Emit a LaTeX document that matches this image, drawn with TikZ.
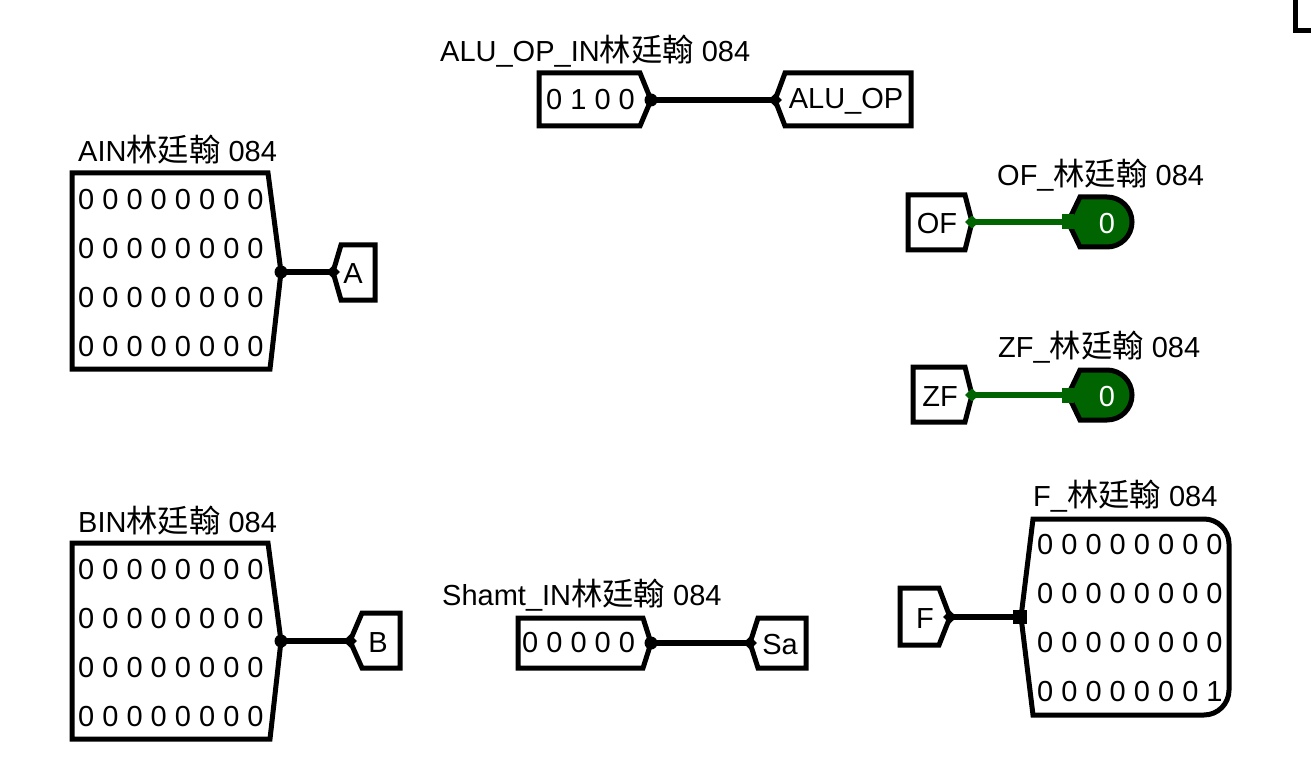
\documentclass[tikz,border=0pt]{standalone}
\usepackage{fontspec}
\setmainfont{Liberation Sans}
\newfontfamily\cjk{Noto Sans CJK TC}[Scale=1.08]
\usepackage{tikz}
\definecolor{lowgreen}{RGB}{0,100,0}
\tikzset{
  outline/.style={line width=5pt, line join=miter},
  wire/.style={line width=6pt},
  lab/.style={anchor=base west, inner sep=0pt, font=\fontsize{29}{35}\selectfont},
  val/.style={anchor=west, inner sep=0pt, font=\fontsize{29}{35}\selectfont},
  tag/.style={inner sep=0pt, font=\fontsize{29}{35}\selectfont},
}
\newcommand{\nm}{{\cjk 林廷翰} 084}
\begin{document}
\begin{tikzpicture}[x=1pt, y=-1pt]
\useasboundingbox[fill=white] (0,0) rectangle (1311,759);
%
% ALU_OP_IN
\node[lab](aluoplab) at (440,62) {ALU\_OP\_IN\nm};
\draw[outline] (539,73) -- (640,73) -- (651,100) -- (640,126) -- (539,126) -- cycle;
\node[val](aluopval) at (546,100) {0 1 0 0};
\coordinate(aluopout) at (651,100);
\draw[outline] (775,100) -- (785,73) -- (911,73) -- (911,126) -- (785,126) -- cycle;
\node[tag](aluoptag) at (846,101) {ALU\_OP};
\coordinate(aluopin) at (775,100);
\draw[wire] (aluopout) -- (aluopin);
\fill (aluopout) circle (6.5);
\fill (aluopin) +(-7,0) -- +(0,-6.5) -- +(7,0) -- +(0,6.5) -- cycle;
%
% AIN
\node[lab](ainlab) at (78,162) {AIN\nm};
\draw[outline] (72,173) -- (268,173) -- (281,272) -- (270,369) -- (72,369) -- cycle;
\foreach \y [count=\i] in {200,249,298,347}
  \node[val](ain\i) at (78,\y) {0 0 0 0 0 0 0 0};
\coordinate(ainout) at (281,272);
\draw[outline] (333,272) -- (341,245) -- (375,245) -- (375,300) -- (341,300) -- cycle;
\node[tag](atag) at (353,274) {A};
\coordinate(ain) at (333,272);
\draw[wire] (ainout) -- (ain);
\fill (ainout) circle (6.5);
\fill (ain) +(-7,0) -- +(0,-6.5) -- +(7,0) -- +(0,6.5) -- cycle;
%
% BIN
\node[lab](binlab) at (78,532) {BIN\nm};
\draw[outline] (72,543) -- (268,543) -- (281,641) -- (270,739) -- (72,739) -- cycle;
\foreach \y [count=\i] in {570,619,668,717}
  \node[val](bin\i) at (78,\y) {0 0 0 0 0 0 0 0};
\coordinate(binout) at (281,641);
\draw[outline] (350,641) -- (362,613) -- (400,613) -- (400,668) -- (362,668) -- cycle;
\node[tag](btag) at (378,643) {B};
\coordinate(bin) at (350,641);
\draw[wire] (binout) -- (bin);
\fill (binout) circle (6.5);
\fill (bin) +(-7,0) -- +(0,-6.5) -- +(7,0) -- +(0,6.5) -- cycle;
%
% Shamt_IN
\node[lab](shlab) at (442,605) {Shamt\_IN\nm};
\draw[outline] (518,618) -- (643,618) -- (651,643) -- (643,668) -- (518,668) -- cycle;
\node[val](shval) at (522,643) {0 0 0 0 0};
\coordinate(shout) at (651,643);
\draw[outline] (750,643) -- (758,618) -- (806,618) -- (806,668) -- (758,668) -- cycle;
\node[tag](satag) at (780,645) {Sa};
\coordinate(sain) at (750,643);
\draw[wire] (shout) -- (sain);
\fill (shout) circle (6.5);
\fill (sain) +(-7,0) -- +(0,-6.5) -- +(7,0) -- +(0,6.5) -- cycle;
%
% OF_
\node[lab](oflab) at (997,186) {OF\_\nm};
\draw[outline] (908,195) -- (965,195) -- (972,222) -- (965,250) -- (908,250) -- cycle;
\node[tag](oftag) at (937,224) {OF};
\coordinate(ofout) at (972,222);
\draw[outline, fill=lowgreen] (1068,222) -- (1080,197) -- (1107,197) arc[start angle=-90, end angle=90, radius=25] -- (1080,247) -- cycle;
\node[tag, text=white](ofval) at (1107,224) {0};
\coordinate(ofin) at (1068,222);
\draw[wire, lowgreen] (ofout) -- (ofin);
\fill[lowgreen] (ofout) +(-7,0) -- +(0,-6.5) -- +(7,0) -- +(0,6.5) -- cycle;
\fill[lowgreen] (ofin) +(-6,-7.5) rectangle +(6,7.5);
%
% ZF_
\node[lab](zflab) at (998,357) {ZF\_\nm};
\draw[outline] (913,367) -- (965,367) -- (972,395) -- (965,422) -- (913,422) -- cycle;
\node[tag](zftag) at (940,397) {ZF};
\coordinate(zfout) at (972,395);
\draw[outline, fill=lowgreen] (1068,395) -- (1080,370) -- (1107,370) arc[start angle=-90, end angle=90, radius=25] -- (1080,420) -- cycle;
\node[tag, text=white](zfval) at (1107,397) {0};
\coordinate(zfin) at (1068,395);
\draw[wire, lowgreen] (zfout) -- (zfin);
\fill[lowgreen] (zfout) +(-7,0) -- +(0,-6.5) -- +(7,0) -- +(0,6.5) -- cycle;
\fill[lowgreen] (zfin) +(-6,-7.5) rectangle +(6,7.5);
%
% F_
\node[lab](flab) at (1033,506) {F\_\nm};
\draw[outline] (1021,617) -- (1033,519) [rounded corners=25pt] -- (1229,519) -- (1229,715) [sharp corners] -- (1033,715) -- cycle;
\foreach \y/\v [count=\i] in {545/0,594/0,643/0,692/1}
  \node[val](f\i) at (1037,\y) {0 0 0 0 0 0 0 \v};
\draw[outline] (900,588) -- (939,588) -- (950,617) -- (939,645) -- (900,645) -- cycle;
\node[tag](ftag) at (925,619) {F};
\coordinate(fout) at (950,617);
\coordinate(fin) at (1020,617);
\draw[wire] (fout) -- (fin);
\fill (fout) +(-7,0) -- +(0,-6.5) -- +(7,0) -- +(0,6.5) -- cycle;
\fill (fin) +(-7,-7) rectangle +(7,7);
%
% corner at top right
\draw[outline] (1295,-3) -- (1295,31) -- (1314,31);
\end{tikzpicture}
\end{document}
